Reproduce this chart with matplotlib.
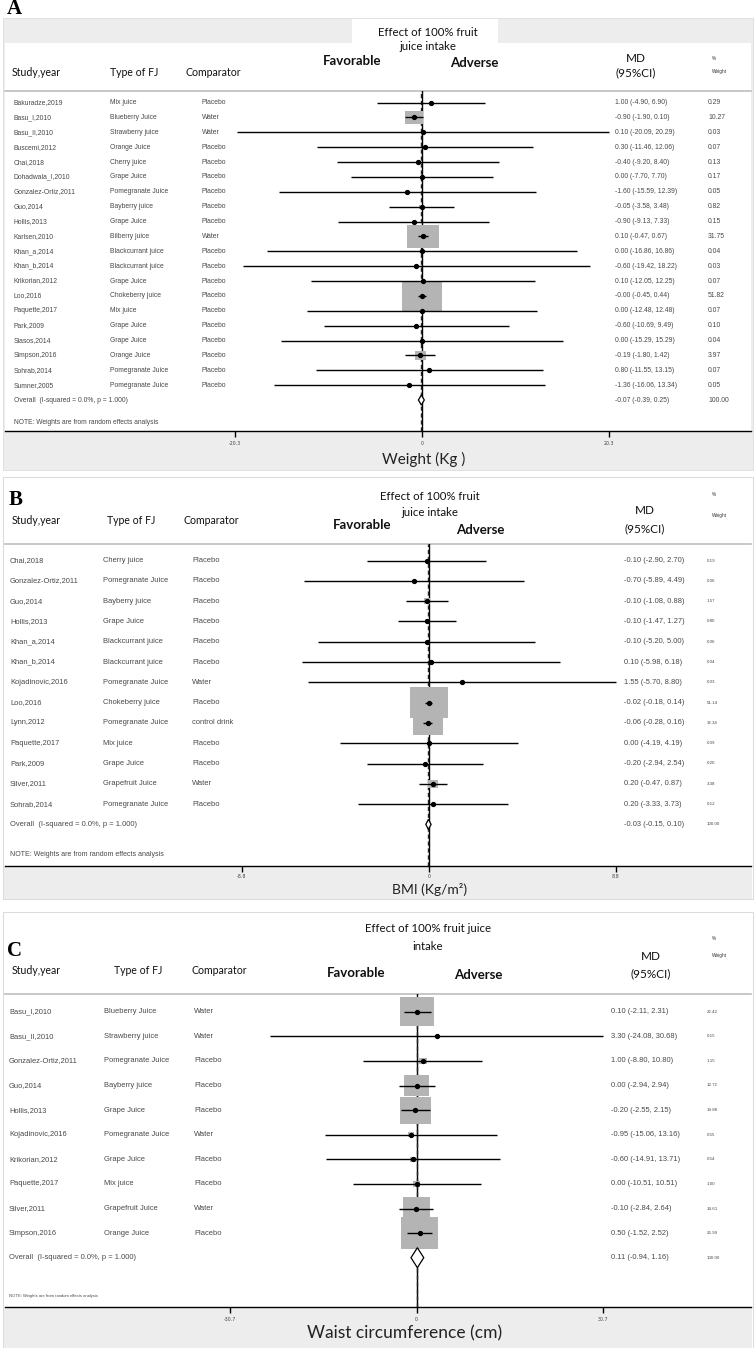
import matplotlib
matplotlib.use("Agg")
import matplotlib.pyplot as plt
from matplotlib.patches import Rectangle, Polygon
import matplotlib.transforms as mtransforms

W, H, DPI = 756, 1348, 100

# ---------------- data ----------------
a_study = ["Bakuradze,2019", "Basu_I,2010", "Basu_II,2010", "Buscemi,2012", "Chai,2018",
           "Dohadwala_I,2010", "Gonzalez-Ortiz,2011", "Guo,2014", "Hollis,2013", "Karlsen,2010",
           "Khan_a,2014", "Khan_b,2014", "Krikorian,2012", "Loo,2016", "Paquette,2017",
           "Park,2009", "Siasos,2014", "Simpson,2016", "Sohrab,2014", "Sumner,2005"]
a_type = ["Mix juice", "Blueberry Juice", "Strawberry juice", "Orange Juice", "Cherry juice",
          "Grape Juice", "Pomegranate Juice", "Bayberry juice", "Grape Juice", "Bilberry juice",
          "Blackcurrant juice", "Blackcurrant juice", "Grape Juice", "Chokeberry juice", "Mix juice",
          "Grape Juice", "Grape Juice", "Orange Juice", "Pomegranate Juice", "Pomegranate Juice"]
a_comp = ["Placebo", "Water", "Water", "Placebo", "Placebo", "Placebo", "Placebo", "Placebo",
          "Placebo", "Water", "Placebo", "Placebo", "Placebo", "Placebo", "Placebo", "Placebo",
          "Placebo", "Placebo", "Placebo", "Placebo"]
a_md = [1.00, -0.90, 0.10, 0.30, -0.40, 0.00, -1.60, -0.05, -0.90, 0.10,
        0.00, -0.60, 0.10, -0.0, 0.00, -0.60, 0.00, -0.19, 0.80, -1.36]
a_lo = [-4.90, -1.90, -20.09, -11.46, -9.20, -7.70, -15.59, -3.58, -9.13, -0.47,
        -16.86, -19.42, -12.05, -0.45, -12.48, -10.69, -15.29, -1.80, -11.55, -16.06]
a_hi = [6.90, 0.10, 20.29, 12.06, 8.40, 7.70, 12.39, 3.48, 7.33, 0.67,
        16.86, 18.22, 12.25, 0.44, 12.48, 9.49, 15.29, 1.42, 13.15, 13.34]
a_wt = [0.29, 10.27, 0.03, 0.07, 0.13, 0.17, 0.05, 0.82, 0.15, 31.75,
        0.04, 0.03, 0.07, 51.82, 0.07, 0.10, 0.04, 3.97, 0.07, 0.05]
a_overall = [-0.07, -0.39, 0.25]
a_ticks = [-20.3, 0, 20.3]
a_ticklabels = ["-20.3", "0", "20.3"]
a_xlabel = "Weight (Kg )"

b_study = ["Chai,2018", "Gonzalez-Ortiz,2011", "Guo,2014", "Hollis,2013", "Khan_a,2014",
           "Khan_b,2014", "Kojadinovic,2016", "Loo,2016", "Lynn,2012", "Paquette,2017",
           "Park,2009", "Silver,2011", "Sohrab,2014"]
b_type = ["Cherry juice", "Pomegranate Juice", "Bayberry juice", "Grape Juice", "Blackcurrant juice",
          "Blackcurrant juice", "Pomegranate Juice", "Chokeberry juice", "Pomegranate Juice", "Mix juice",
          "Grape Juice", "Grapefruit Juice", "Pomegranate Juice"]
b_comp = ["Placebo", "Placebo", "Placebo", "Placebo", "Placebo", "Placebo", "Water", "Placebo",
          "control drink", "Placebo", "Placebo", "Water", "Placebo"]
b_md = [-0.10, -0.70, -0.10, -0.10, -0.10, 0.10, 1.55, -0.02, -0.06, 0.00, -0.20, 0.20, 0.20]
b_lo = [-2.90, -5.89, -1.08, -1.47, -5.20, -5.98, -5.70, -0.18, -0.28, -4.19, -2.94, -0.47, -3.33]
b_hi = [2.70, 4.49, 0.88, 1.27, 5.00, 6.18, 8.80, 0.14, 0.16, 4.19, 2.54, 0.87, 3.73]
b_wt = [0.19, 0.06, 1.57, 0.80, 0.06, 0.04, 0.03, 51.14, 32.34, 0.09, 0.20, 3.38, 0.12]
b_overall = [-0.03, -0.15, 0.10]
b_ticks = [-8.8, 0, 8.8]
b_ticklabels = ["-8.8", "0", "8.8"]
b_xlabel = "BMI (Kg/m²)"

c_study = ["Basu_I,2010", "Basu_II,2010", "Gonzalez-Ortiz,2011", "Guo,2014", "Hollis,2013",
           "Kojadinovic,2016", "Krikorian,2012", "Paquette,2017", "Silver,2011", "Simpson,2016"]
c_type = ["Blueberry Juice", "Strawberry juice", "Pomegranate Juice", "Bayberry juice", "Grape Juice",
          "Pomegranate Juice", "Grape Juice", "Mix juice", "Grapefruit Juice", "Orange Juice"]
c_comp = ["Water", "Water", "Placebo", "Placebo", "Placebo", "Water", "Placebo", "Placebo",
          "Water", "Placebo"]
c_md = [0.10, 3.30, 1.00, 0.00, -0.20, -0.95, -0.60, 0.00, -0.10, 0.50]
c_lo = [-2.11, -24.08, -8.80, -2.94, -2.55, -15.06, -14.91, -10.51, -2.84, -1.52]
c_hi = [2.31, 30.68, 10.80, 2.94, 2.15, 13.16, 13.71, 10.51, 2.64, 2.52]
c_wt = [22.42, 0.15, 1.15, 12.72, 19.88, 0.55, 0.54, 1.00, 14.61, 26.99]
c_overall = [0.11, -0.94, 1.16]
c_ticks = [-30.7, 0, 30.7]
c_ticklabels = ["-30.7", "0", "30.7"]
c_xlabel = "Waist circumference (cm)"

overall_label = "Overall  (I-squared = 0.0%, p = 1.000)"
note_label = "NOTE: Weights are from random effects analysis"
title_lines = [["Effect of 100% fruit", "juice intake"],
               ["Effect of 100% fruit", "juice intake"],
               ["Effect of 100% fruit juice", "intake"]]

# ---------------- figure ----------------
fig = plt.figure(figsize=(W / DPI, H / DPI), dpi=DPI)
bg = fig.add_axes([0, 0, 1, 1], zorder=0)
bg.set_xlim(0, W)
bg.set_ylim(H, 0)
bg.axis("off")

ROWFONT = "Liberation Sans"
HEADFONT = "Lato"
GRAY_BG = "#ededed"
ROWCOL = "#484848"

panels = [
    dict(letter="A", study=a_study, typ=a_type, comp=a_comp, md=a_md, lo=a_lo, hi=a_hi, wt=a_wt,
         overall=a_overall, ticks=a_ticks, ticklabels=a_ticklabels, xlabel=a_xlabel, title=title_lines[0],
         top=18, bottom=470, band_top=None, axis_y=431, sep_y=91, row0=102.6, dy=14.87,
         zero_px=422, tick_px=608.7, boxw=5.65, boxh=4.2, diah=10,
         letter_xy=(14, 9), title_y=(32, 47), title_x=428,
         fav=(352, 61), adv=(474, 63), md_x=636, md_y=(58, 73), pct_y=(58, 71),
         study_x=12, type_x=110, comp_x=186, head_y=72,
         rstudy_x=14, rtype_x=110, rcomp_x=202, rfs=4.9, ci_x=615, wt_x=708, wfs=4.9,
         note_y=422, note_fs=4.8, tick_pad=3, xlabel_y=459, xlabel_x=424, xlabel_fs=11),
    dict(letter="B", study=b_study, typ=b_type, comp=b_comp, md=b_md, lo=b_lo, hi=b_hi, wt=b_wt,
         overall=b_overall, ticks=b_ticks, ticklabels=b_ticklabels, xlabel=b_xlabel, title=title_lines[1],
         top=477, bottom=899, band_top=866, axis_y=866, sep_y=544, row0=560.5, dy=20.3,
         zero_px=429, tick_px=616, boxw=5.3, boxh=4.3, diah=10,
         letter_xy=(16, 500), title_y=(497, 513), title_x=430,
         fav=(362, 525), adv=(480, 530), md_x=645, md_y=(511, 529), pct_y=(494, 516),
         study_x=12, type_x=107, comp_x=184, head_y=520,
         rstudy_x=10, rtype_x=103, rcomp_x=192, rfs=5.4, ci_x=624, wt_x=707, wfs=3.2,
         note_y=855, note_fs=5.0, tick_pad=1.5, xlabel_y=890, xlabel_x=430, xlabel_fs=10),
    dict(letter="C", study=c_study, typ=c_type, comp=c_comp, md=c_md, lo=c_lo, hi=c_hi, wt=c_wt,
         overall=c_overall, ticks=c_ticks, ticklabels=c_ticklabels, xlabel=c_xlabel, title=title_lines[2],
         top=912, bottom=1348, band_top=1307, axis_y=1307, sep_y=994, row0=1011.7, dy=24.6,
         zero_px=416.7, tick_px=603.3, boxw=7.1, boxh=6.1, diah=20,
         letter_xy=(14, 951), title_y=(929, 946), title_x=428,
         fav=(356, 973), adv=(478, 975), md_x=651, md_y=(957, 974), pct_y=(938, 956),
         study_x=12, type_x=114, comp_x=192, head_y=970,
         rstudy_x=9, rtype_x=104, rcomp_x=194, rfs=5.4, ci_x=611, wt_x=707, wfs=3.2,
         note_y=1296, note_fs=3.0, tick_pad=2.5, xlabel_y=1333, xlabel_x=405, xlabel_fs=12.5),
]

for p in panels:
    x0, x1 = 5, 751
    # panel frame / backgrounds
    if p["letter"] == "A":
        bg.add_patch(Rectangle((3, p["top"]), 750, p["bottom"] - p["top"], facecolor=GRAY_BG,
                               edgecolor="#dddddd", lw=0.6, zorder=0))
        bg.add_patch(Rectangle((x0, 43), x1 - x0, p["axis_y"] - 43, facecolor="white",
                               edgecolor="none", zorder=0.5))
        bg.add_patch(Rectangle((352, p["top"] + 1), 146, 43 - p["top"], facecolor="white",
                               edgecolor="none", zorder=0.5))
    else:
        bg.add_patch(Rectangle((3, p["top"]), 750, p["bottom"] - p["top"], facecolor="white",
                               edgecolor="#dcdcdc", lw=0.8, zorder=0))
        bg.add_patch(Rectangle((4, p["band_top"]), 748, p["bottom"] - p["band_top"],
                               facecolor=GRAY_BG, edgecolor="none", zorder=0.5))
    # separator
    bg.plot([x0, x1], [p["sep_y"], p["sep_y"]], color="#bdbdbd", lw=1.2, zorder=1)

    # headers
    bg.text(p["letter_xy"][0], p["letter_xy"][1], p["letter"], family="Liberation Serif",
            weight="bold", fontsize=15, ha="center", va="center", color="black", zorder=2)
    for yy, line in zip(p["title_y"], p["title"]):
        bg.text(p["title_x"], yy, line, family=HEADFONT, fontsize=8.2, ha="center", va="center",
                color="#111111", zorder=2)
    bg.text(p["fav"][0], p["fav"][1], "Favorable", family=HEADFONT, fontsize=9.5, weight="bold",
            ha="center", va="center", color="#111111", zorder=2)
    bg.text(p["adv"][0], p["adv"][1], "Adverse", family=HEADFONT, fontsize=9.5, weight="bold",
            ha="center", va="center", color="#111111", zorder=2)
    bg.text(p["md_x"], p["md_y"][0], "MD", family=HEADFONT, fontsize=8.5, ha="center",
            va="center", color="#111111", zorder=2)
    bg.text(p["md_x"], p["md_y"][1], "(95%CI)", family=HEADFONT, fontsize=8.5, ha="center",
            va="center", color="#111111", zorder=2)
    bg.text(712, p["pct_y"][0], "%", family=ROWFONT, fontsize=3.4, ha="left", va="center",
            color="#333333", zorder=2)
    bg.text(712, p["pct_y"][1], "Weight", family=ROWFONT, fontsize=3.4, ha="left", va="center",
            color="#333333", zorder=2)
    for xx, lab in [(p["study_x"], "Study,year"), (p["type_x"], "Type of FJ"),
                    (p["comp_x"], "Comparator")]:
        bg.text(xx, p["head_y"], lab, family=HEADFONT, fontsize=7.6, ha="left", va="center",
                color="#111111", zorder=2)

    # forest axes
    ppu = (p["tick_px"] - p["zero_px"]) / p["ticks"][2]
    ax = fig.add_axes([x0 / W, 1 - p["axis_y"] / H, (x1 - x0) / W,
                       (p["axis_y"] - p["sep_y"]) / H], zorder=1)
    ax.patch.set_alpha(0)
    ax.set_xlim((x0 - p["zero_px"]) / ppu, (x1 - p["zero_px"]) / ppu)
    ax.set_ylim((p["axis_y"] - p["row0"]) / p["dy"], (p["sep_y"] - p["row0"]) / p["dy"])
    for s in ["left", "right", "top"]:
        ax.spines[s].set_visible(False)
    ax.spines["bottom"].set_linewidth(1.0)
    ax.set_yticks([])
    ax.set_xticks(p["ticks"])
    ax.set_xticklabels(p["ticklabels"])
    ax.tick_params(axis="x", length=4.5, width=1.0, labelsize=3.4, pad=p["tick_pad"],
                   labelcolor="#444444")

    ax.axvline(0, color="black", lw=1.0, zorder=1)
    ax.axvline(p["overall"][0], color="#222222", lw=1.0, ls=(0, (3, 2)), zorder=1)

    n = len(p["study"])
    rows = list(range(n))
    bw_scale = p["boxw"] / ppu
    bh_scale = p["boxh"] / p["dy"]
    for i, (m, lo, hi, w) in enumerate(zip(p["md"], p["lo"], p["hi"], p["wt"])):
        bw = bw_scale * w ** 0.5
        bh = bh_scale * w ** 0.5
        ax.add_patch(Rectangle((m - bw / 2, i - bh / 2), bw, bh, facecolor="#b4b4b4",
                               edgecolor="none", zorder=2))
    ax.hlines(rows, p["lo"], p["hi"], color="black", lw=1.0, zorder=3)
    ax.plot(p["md"], rows, "o", color="black", ms=2.8, zorder=4)

    est, olo, ohi = p["overall"]
    dh = p["diah"] / p["dy"] / 2
    ax.add_patch(Polygon([(olo, n), (est, n - dh), (ohi, n), (est, n + dh)], closed=True,
                         facecolor="white", edgecolor="black", lw=0.9, zorder=4))

    # row text
    tr = mtransforms.blended_transform_factory(bg.transData, ax.transData)
    for i in rows:
        ax.text(p["rstudy_x"], i, p["study"][i], transform=tr, family=ROWFONT, fontsize=p["rfs"],
                ha="left", va="center", color=ROWCOL)
        ax.text(p["rtype_x"], i, p["typ"][i], transform=tr, family=ROWFONT, fontsize=p["rfs"],
                ha="left", va="center", color=ROWCOL)
        ax.text(p["rcomp_x"], i, p["comp"][i], transform=tr, family=ROWFONT, fontsize=p["rfs"],
                ha="left", va="center", color=ROWCOL)
        ci = f"{p['md'][i]:.2f} ({p['lo'][i]:.2f}, {p['hi'][i]:.2f})"
        ax.text(p["ci_x"], i, ci, transform=tr, family=ROWFONT, fontsize=p["rfs"],
                ha="left", va="center", color=ROWCOL)
        ax.text(p["wt_x"], i, f"{p['wt'][i]:.2f}", transform=tr, family=ROWFONT,
                fontsize=p["wfs"], ha="left", va="center", color=ROWCOL)
    ax.text(p["rstudy_x"], n, overall_label, transform=tr, family=ROWFONT, fontsize=p["rfs"],
            ha="left", va="center", color=ROWCOL)
    ax.text(p["ci_x"], n, f"{est:.2f} ({olo:.2f}, {ohi:.2f})", transform=tr, family=ROWFONT,
            fontsize=p["rfs"], ha="left", va="center", color=ROWCOL)
    ax.text(p["wt_x"], n, "100.00", transform=tr, family=ROWFONT, fontsize=p["wfs"],
            ha="left", va="center", color=ROWCOL)
    bg.text(p["rstudy_x"], p["note_y"], note_label, family=ROWFONT, fontsize=p["note_fs"],
            ha="left", va="center", color=ROWCOL, zorder=2)

    bg.text(p["xlabel_x"], p["xlabel_y"], p["xlabel"], family=HEADFONT, fontsize=p["xlabel_fs"],
            ha="center", va="center", color="#222222", zorder=2)

fig.savefig("out.png", dpi=DPI)
